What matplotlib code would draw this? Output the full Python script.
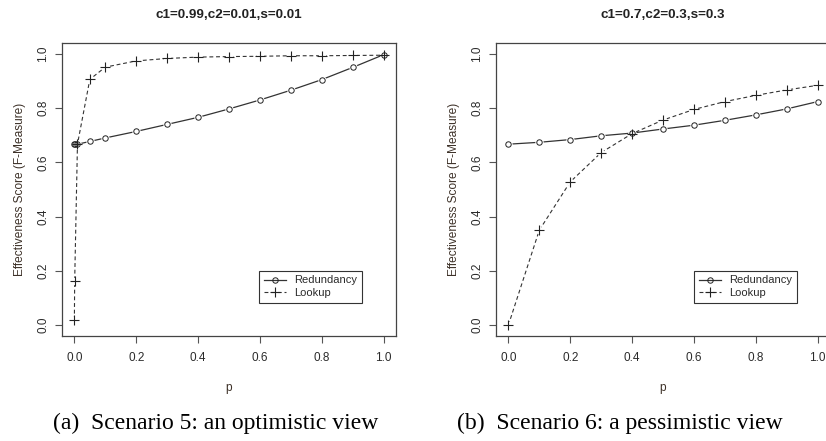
import matplotlib
matplotlib.use("Agg")
import matplotlib.pyplot as plt

# ---- data ----
p_left = [0.0, 0.001, 0.01, 0.05, 0.1, 0.2, 0.3, 0.4, 0.5, 0.6, 0.7, 0.8, 0.9, 1.0]
red_left = [0.667, 0.667, 0.667, 0.677, 0.690, 0.714, 0.740, 0.766, 0.797, 0.830, 0.866, 0.905, 0.950, 0.997]
look_left = [0.018, 0.163, 0.667, 0.906, 0.951, 0.974, 0.983, 0.988, 0.990, 0.991, 0.993, 0.993, 0.994, 0.995]

p_right = [0.0, 0.1, 0.2, 0.3, 0.4, 0.5, 0.6, 0.7, 0.8, 0.9, 1.0]
red_right = [0.667, 0.674, 0.684, 0.698, 0.708, 0.723, 0.737, 0.755, 0.775, 0.797, 0.824]
look_right = [0.0, 0.350, 0.528, 0.636, 0.706, 0.756, 0.795, 0.824, 0.847, 0.867, 0.884]

titles = ["c1=0.99,c2=0.01,s=0.01", "c1=0.7,c2=0.3,s=0.3"]
captions = ["(a)  Scenario 5: an optimistic view", "(b)  Scenario 6: a pessimistic view"]
ticks = [0.0, 0.2, 0.4, 0.6, 0.8, 1.0]
tick_labels = ["0.0", "0.2", "0.4", "0.6", "0.8", "1.0"]
series_names = ["Redundancy", "Lookup"]

# ---- figure ----
W, H = 826, 441
fig = plt.figure(figsize=(W / 100, H / 100), dpi=100)
plt.rcParams['font.family'] = ['Liberation Sans', 'DejaVu Sans']

axes_px = [(62, 43, 334, 293), (496, 43, 334, 293)]
legend_anchor = [(0.590, 0.222), (0.593, 0.222)]
caption_x = [216, 620]
title_x = [229, 663]

data = [(p_left, red_left, look_left), (p_right, red_right, look_right)]
tick_col = "#2b2b2b"
lab_col = "#3d3128"

for i, (x0, y0, w, h) in enumerate(axes_px):
    ax = fig.add_axes([x0 / W, 1 - (y0 + h) / H, w / W, h / H])
    px, red, look = data[i]
    ax.plot(px, red, '-', color='#333333', lw=0.9, zorder=2)
    ax.plot(px, look, '-', color='#333333', lw=0.8, dashes=(3.5, 2.5), zorder=2)
    ax.plot(px, red, 'o', ms=6, mfc='white', mec='none', zorder=3)
    ax.plot(px, look, 'o', ms=5.5, mfc='white', mec='none', zorder=3)
    ax.plot(px, red, 'o', ms=3.9, mfc='none', mec='#222222', mew=0.7, zorder=4)
    ax.plot(px, look, '+', ms=7.5, mec='#222222', mew=0.8, zorder=4)

    ax.set_xlim(-0.04, 1.04)
    ax.set_ylim(-0.04, 1.04)
    ax.set_xticks(ticks)
    ax.set_xticklabels(tick_labels)
    ax.set_yticks(ticks)
    ax.set_yticklabels(tick_labels, rotation=90, va='center')
    ax.tick_params(axis='both', labelsize=8.5, colors='#555555', labelcolor=tick_col,
                   length=5, width=0.8)
    ax.tick_params(axis='x', pad=6.5)
    ax.tick_params(axis='y', pad=4)
    for s in ax.spines.values():
        s.set_color('#444444')
        s.set_linewidth(0.9)
    fig.text(title_x[i] / W, 1 - 15 / H, titles[i], ha='center', va='center',
             fontsize=9.7, fontweight='bold', color='#222222')
    ax.set_xlabel('p', fontsize=8.6, color=lab_col, labelpad=13)
    ax.set_ylabel('Effectiveness Score (F-Measure)', fontsize=8.6, color=lab_col, labelpad=8)

    # legend handles
    h1, = ax.plot([], [], '-', color='#333333', lw=0.9, marker='o', ms=3.9, mfc='none',
                  mec='#222222', mew=0.7)
    h2, = ax.plot([], [], '-', color='#333333', lw=0.8, dashes=(3.5, 2.5), marker='+', ms=7.5,
                  mec='#222222', mew=0.8)
    leg = ax.legend([h1, h2], series_names, loc='upper left', bbox_to_anchor=legend_anchor[i],
                    fontsize=8, frameon=True, fancybox=False, edgecolor='#333333',
                    framealpha=1, numpoints=1, handlelength=2.0, handletextpad=0.8,
                    borderpad=0.4, labelspacing=0.25, borderaxespad=0)
    leg.get_frame().set_linewidth(0.8)
    for t in leg.get_texts():
        t.set_color(tick_col)

    fig.text(caption_x[i] / W, 1 - 423 / H, captions[i], ha='center', va='center',
             fontsize=17, family=['Liberation Serif', 'DejaVu Serif'], color='black')

fig.savefig('out.png', dpi=100)
